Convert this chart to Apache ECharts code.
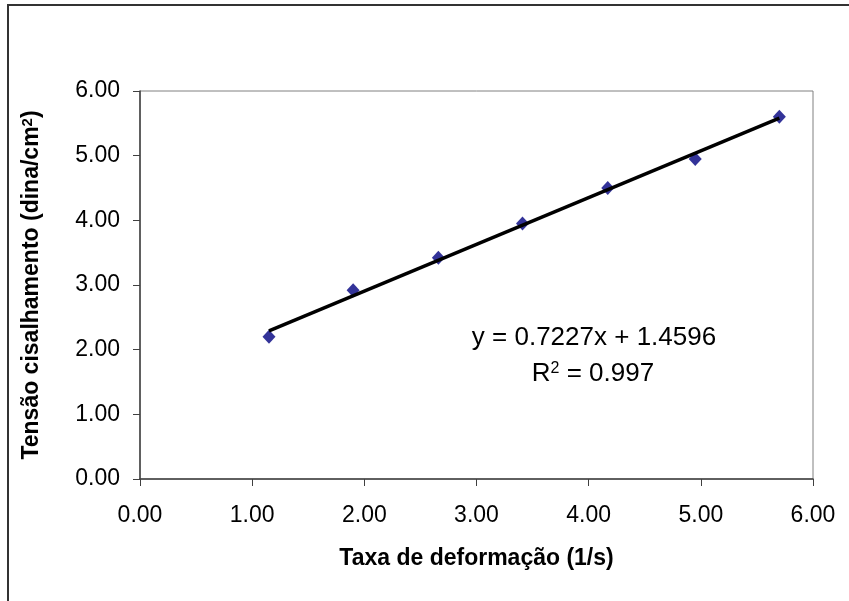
<!DOCTYPE html>
<html><head><meta charset="utf-8">
<script src="https://cdn.jsdelivr.net/npm/echarts@6/dist/echarts.min.js"></script>
<style>html,body{margin:0;padding:0;background:#fff}#c{width:849px;height:601px}</style>
</head><body><div id="c"></div>
<script>
// Data
const shearRate   = [1.15, 1.90, 2.66, 3.41, 4.17, 4.95, 5.70];
const shearStress = [2.20, 2.92, 3.42, 3.95, 4.50, 4.95, 5.60];
const slope = 0.7227;
const intercept = 1.4596;
const rSquared = '0.997';
const xTitle = 'Taxa de deformação (1/s)';
const yTitle = 'Tensão cisalhamento (dina/cm{sup|2})';

const FONT = '"Liberation Sans", Arial, sans-serif';
const points = shearRate.map((x, i) => [x, shearStress[i]]);
const xMin = Math.min(...shearRate), xMax = Math.max(...shearRate);
const trend = [[xMin, slope * xMin + intercept], [xMax, slope * xMax + intercept]];

const chart = echarts.init(document.getElementById('c'), null, {renderer: 'canvas'});
chart.setOption({
  animation: false,
  backgroundColor: '#fff',
  grid: {left: 140, right: 36, top: 91, bottom: 122, show: true, borderColor: '#808080', borderWidth: 1, backgroundColor: 'transparent'},
  xAxis: {
    type: 'value', min: 0, max: 6, interval: 1,
    name: xTitle, nameLocation: 'middle', nameGap: 68,
    nameTextStyle: {fontFamily: FONT, fontWeight: 'bold', fontSize: 23, color: '#000'},
    axisLine: {show: true, onZero: false, lineStyle: {color: '#404040', width: 1.5}},
    axisTick: {show: true, inside: false, length: 7, lineStyle: {color: '#404040'}},
    axisLabel: {margin: 25, fontFamily: FONT, fontSize: 23, color: '#000', formatter: v => v.toFixed(2)},
    splitLine: {show: false}
  },
  yAxis: {
    type: 'value', min: 0, max: 6, interval: 1,
    name: yTitle, nameLocation: 'middle', nameGap: 96, nameRotate: 90,
    nameTextStyle: {fontFamily: FONT, fontWeight: 'bold', fontSize: 23, color: '#000',
      rich: {sup: {fontFamily: FONT, fontWeight: 'bold', fontSize: 15, color: '#000', verticalAlign: 'bottom', padding: [0, 0, 9, 0]}}},
    axisLine: {show: true, onZero: false, lineStyle: {color: '#404040', width: 1.5}},
    axisTick: {show: true, inside: false, length: 7, lineStyle: {color: '#404040'}},
    axisLabel: {margin: 20, fontFamily: FONT, fontSize: 23, color: '#000', formatter: v => v.toFixed(2)},
    splitLine: {show: false}
  },
  series: [
    {type: 'scatter', data: points, symbol: 'diamond', symbolSize: [13, 14],
     itemStyle: {color: '#000080'}, z: 2},
    {type: 'line', data: trend, symbol: 'none', lineStyle: {color: '#000', width: 3.5}, z: 3}
  ],
  graphic: [
    {type: 'rect', silent: true, z: -10, shape: {x: 8, y: 5, width: 900, height: 700},
     style: {fill: 'none', stroke: '#333', lineWidth: 2}},
    {type: 'text', silent: true, x: 594, y: 338,
     style: {text: 'y = ' + slope + 'x + ' + intercept, font: '26px ' + FONT, fill: '#000', align: 'center', verticalAlign: 'middle'}},
    {type: 'text', silent: true, x: 593, y: 374,
     style: {text: 'R{sup|2} = ' + rSquared, font: '26px ' + FONT, fill: '#000', align: 'center', verticalAlign: 'middle',
       rich: {sup: {fontFamily: FONT, fontSize: 16, fill: '#000', verticalAlign: 'bottom', padding: [0, 0, 10, 0]}}}}
  ]
});
</script></body></html>
